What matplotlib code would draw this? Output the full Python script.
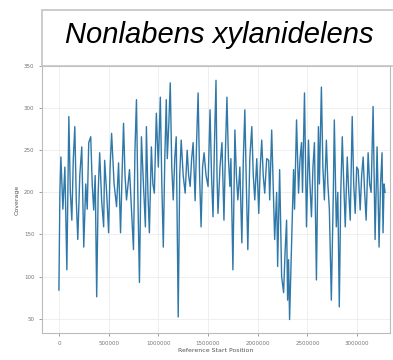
import matplotlib
matplotlib.use('Agg')
import matplotlib.pyplot as plt
from matplotlib.patches import Rectangle

# Posição inicial de referência (pb) e cobertura
posicoes = [0, 10000, 20000, 40000, 60000, 80000, 100000, 115000,
            130000, 145000, 160000, 175000, 190000, 210000, 230000, 250000,
            270000, 285000, 300000, 320000, 335000, 350000, 365000, 380000,
            395000, 410000, 430000, 450000, 460000, 480000, 500000, 515000,
            530000, 555000, 580000, 600000, 620000, 635000, 650000, 665000,
            680000, 710000, 730000, 750000, 765000, 780000, 795000, 810000,
            830000, 850000, 870000, 880000, 895000, 910000, 930000, 945000,
            960000, 980000, 1000000, 1020000, 1035000, 1050000, 1065000, 1080000,
            1090000, 1105000, 1120000, 1135000, 1150000, 1165000, 1180000, 1200000,
            1215000, 1230000, 1250000, 1270000, 1290000, 1305000, 1320000, 1335000,
            1350000, 1370000, 1385000, 1400000, 1415000, 1430000, 1445000, 1460000,
            1480000, 1500000, 1520000, 1535000, 1550000, 1565000, 1580000, 1590000,
            1600000, 1620000, 1640000, 1660000, 1675000, 1690000, 1705000, 1720000,
            1730000, 1750000, 1770000, 1785000, 1800000, 1820000, 1840000, 1855000,
            1870000, 1885000, 1900000, 1920000, 1940000, 1955000, 1970000, 1990000,
            2010000, 2025000, 2040000, 2055000, 2070000, 2090000, 2110000, 2120000,
            2140000, 2155000, 2170000, 2190000, 2200000, 2220000, 2240000, 2260000,
            2275000, 2290000, 2300000, 2310000, 2320000, 2340000, 2360000, 2370000,
            2390000, 2410000, 2425000, 2440000, 2450000, 2470000, 2490000, 2510000,
            2525000, 2540000, 2555000, 2570000, 2590000, 2610000, 2620000, 2640000,
            2655000, 2670000, 2690000, 2705000, 2720000, 2740000, 2760000, 2770000,
            2790000, 2805000, 2820000, 2835000, 2850000, 2865000, 2880000, 2900000,
            2915000, 2930000, 2950000, 2965000, 2980000, 2995000, 3010000, 3030000,
            3045000, 3060000, 3075000, 3090000, 3110000, 3125000, 3140000, 3160000,
            3170000, 3180000, 3200000, 3210000, 3220000, 3235000, 3250000, 3260000,
            3270000, 3280000]
cobertura = [84, 200, 242, 180, 230, 108, 290, 200,
             167, 240, 278, 190, 144, 220, 254, 135,
             210, 180, 259, 266, 210, 179, 220, 76,
             200, 247, 190, 159, 238, 200, 152, 230,
             270, 210, 183, 235, 152, 220, 282, 220,
             191, 227, 179, 132, 250, 310, 190, 93,
             266, 210, 159, 278, 200, 152, 254, 210,
             199, 294, 230, 313, 210, 135, 240, 310,
             240, 280, 330, 230, 191, 240, 266, 52,
             220, 262, 220, 199, 250, 220, 207, 240,
             259, 190, 260, 318, 220, 159, 230, 247,
             220, 207, 298, 220, 171, 260, 333, 220,
             175, 230, 259, 167, 250, 313, 240, 207,
             240, 108, 274, 220, 191, 230, 140, 240,
             298, 210, 132, 240, 278, 220, 191, 240,
             175, 230, 262, 220, 199, 240, 238, 191,
             274, 210, 144, 200, 112, 227, 100, 81,
             130, 167, 72, 120, 49, 140, 227, 180,
             286, 199, 240, 259, 200, 318, 159, 262,
             210, 171, 230, 259, 96, 278, 210, 325,
             230, 191, 262, 210, 180, 72, 200, 286,
             159, 200, 64, 200, 266, 210, 159, 242,
             200, 167, 290, 210, 175, 230, 227, 179,
             220, 242, 200, 167, 247, 210, 200, 302,
             220, 144, 254, 200, 135, 210, 247, 152,
             210, 200]

xticks = [0, 500000, 1000000, 1500000, 2000000, 2500000, 3000000]
yticks = [50, 100, 150, 200, 250, 300, 350]

fig = plt.figure(figsize=(3.93, 3.6), dpi=100)
ax = fig.add_axes([42 / 393, 27 / 360, 348 / 393, 267 / 360])

ax.plot(posicoes, cobertura, color='#2f78a8', linewidth=1.0)

ax.set_xlim(-170000, 3330000)
ax.set_ylim(33, 350)
ax.set_xticks(xticks)
ax.set_yticks(yticks)
ax.ticklabel_format(style='plain', axis='x', useOffset=False)
ax.grid(True, color='#ececec', linewidth=0.6)
ax.tick_params(labelsize=4, colors='#777777', length=2, width=0.5)
for s in ax.spines.values():
    s.set_color('#bbbbbb')
    s.set_linewidth(0.8)

ax.set_xlabel('Reference Start Position', fontsize=4.5, color='#555555', labelpad=2)
ax.set_ylabel('Coverage', fontsize=4.5, color='#555555', labelpad=3)

# Caixa do título por cima do gráfico
caixa = Rectangle((42 / 393, 294 / 360), 1.0, 56 / 360, transform=fig.transFigure,
                  facecolor='white', edgecolor='#c4c4c4', linewidth=1.2)
fig.patches.append(caixa)
fig.text(219 / 393, 325 / 360, 'Nonlabens xylanidelens', fontsize=21,
         fontstyle='italic', family='Liberation Sans', ha='center', va='center')

fig.savefig('out.png', dpi=100)
